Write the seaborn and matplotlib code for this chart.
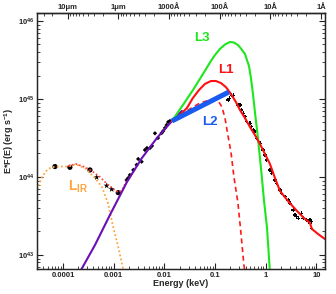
import matplotlib
matplotlib.use('Agg')
import matplotlib.pyplot as plt
import seaborn as sns
import pandas as pd
from matplotlib.ticker import FixedLocator, NullFormatter

sns.set_style('ticks')
plt.rcParams['font.family'] = ['Liberation Sans', 'DejaVu Sans']
plt.rcParams['mathtext.fontset'] = 'custom'
plt.rcParams['mathtext.rm'] = 'Liberation Sans'
plt.rcParams['mathtext.bf'] = 'Liberation Sans:bold'
plt.rcParams['mathtext.it'] = 'Liberation Sans:italic'

# ---------------- data (energy in keV, E*F(E) in erg/s) ----------------
purple_E = [2.16e-4, 4.28e-4, 8.45e-4, 1.83e-3, 3.61e-3, 7.14e-3, 1.41e-2, 2.22e-2]
purple_L = [6.05e42, 1.34e43, 3.26e43, 8.63e43, 1.75e44, 3.16e44, 5.22e44, 7.02e44]

L2_E = [0.0141, 0.188]
L2_L = [5.22e44, 1.23e45]

L1_E = [0.0141, 0.0203, 0.0279, 0.0366, 0.0481, 0.0632, 0.0830, 0.104, 0.131, 0.164,
        0.206, 0.258, 0.310, 0.389, 0.488, 0.612, 0.769, 0.964, 1.21, 1.52,
        1.91, 2.74, 4.12, 5.66, 7.45, 8.15, 10.7, 14.7]
L1_L = [5.22e44, 6.24e44, 7.67e44, 1.03e45, 1.30e45, 1.56e45, 1.70e45, 1.70e45, 1.60e45, 1.42e45,
        1.16e45, 9.15e44, 7.23e44, 5.70e44, 4.38e44, 3.45e44, 2.65e44, 1.97e44, 1.47e44, 9.7e43,
        6.62e43, 4.92e43, 3.67e43, 2.98e43, 2.57e43, 2.15e43, 1.86e43, 1.60e43]

L3_E = [0.0141, 0.0233, 0.0366, 0.0577, 0.0830, 0.0995, 0.125, 0.157, 0.197, 0.236,
        0.283, 0.324, 0.389, 0.467, 0.511, 0.560, 0.612, 0.702, 0.769, 0.841,
        0.921, 1.06, 1.21]
L3_L = [5.22e44, 8.38e44, 1.30e45, 2.09e45, 3.07e45, 3.66e45, 4.38e45, 5.0e45, 5.38e45, 5.30e45,
        4.92e45, 4.44e45, 3.78e45, 2.65e45, 1.86e45, 1.16e45, 6.81e44, 3.16e44, 1.75e44, 9.7e43,
        5.07e43, 2.22e43, 6.05e42]

disk_E = [0.0148, 0.0222, 0.0320, 0.0504, 0.0792, 0.0995, 0.119, 0.137, 0.157, 0.179,
          0.206, 0.236, 0.283, 0.324, 0.371, 0.389]
disk_L = [5.38e44, 6.42e44, 7.45e44, 8.89e44, 9.71e44, 9.71e44, 9.15e44, 7.89e44, 5.70e44, 3.45e44,
          2.09e44, 1.0e44, 4.64e43, 1.91e43, 7.44e42, 6.05e42]

IR_E = [3.07e-5, 3.85e-5, 5.06e-5, 6.95e-5, 1.26e-4, 1.80e-4, 2.72e-4, 4.28e-4, 5.87e-4, 7.72e-4,
        9.68e-4, 1.22e-3, 1.52e-3, 1.60e-3]
IR_L = [6.82e43, 1.0e44, 1.27e44, 1.36e44, 1.36e44, 1.45e44, 1.30e44, 9.7e43, 7.44e43, 4.64e43,
        2.35e43, 1.30e43, 6.81e42, 6.05e42]

sum_E = [1.26e-4, 1.80e-4, 2.72e-4, 3.73e-4, 5.37e-4, 7.38e-4, 9.68e-4, 1.22e-3, 1.46e-3, 1.67e-3, 1.83e-3]
sum_L = [1.38e44, 1.47e44, 1.34e44, 1.19e44, 1.0e44, 8.13e43, 7.02e43, 6.33e43, 6.82e43, 8.13e43, 9.15e43]

ir_pts_E = [6.95e-5, 1.37e-4, 3.41e-4, 1.23e-3]
ir_pts_L = [1.36e44, 1.33e44, 1.23e44, 6.29e43]
ir_star_E = [4.62e-4, 7.28e-4, 9.14e-4]
ir_star_L = [9.9e43, 7.73e43, 6.95e43]

uv_E = [1.80e-3, 1.94e-3, 2.09e-3, 2.44e-3, 2.84e-3, 3.05e-3, 3.56e-3, 4.14e-3, 4.54e-3, 5.20e-3,
        5.69e-3, 6.53e-3, 7.48e-3, 8.85e-3, 9.51e-3, 1.03e-2, 1.11e-2, 1.19e-2, 1.29e-2]
uv_L = [9.15e43, 9.7e43, 1.06e44, 1.23e44, 1.43e44, 1.70e44, 1.57e44, 2.22e44, 2.35e44, 2.35e44,
        2.50e44, 3.63e44, 3.16e44, 3.66e44, 3.89e44, 4.25e44, 4.64e44, 5.07e44, 5.22e44]

xr_E = [0.174, 0.191, 0.182, 0.212, 0.229, 0.287, 0.310, 0.335, 0.360, 0.389,
        0.420, 0.488, 0.527, 0.566, 0.612, 0.662, 0.769, 0.893, 0.964, 1.04,
        1.21, 1.31, 1.52, 1.64, 1.91, 2.06, 2.39, 2.78, 3.00, 3.49,
        3.77, 4.06, 4.37, 5.11, 5.50, 6.41, 6.89, 7.45, 8.04, 8.04]
xr_L = [1.18e45, 1.02e45, 9.71e44, 1.12e45, 1.12e45, 8.38e44, 8.38e44, 7.23e44, 6.56e44, 5.93e44,
        5.12e44, 4.88e44, 4.42e44, 4.01e44, 3.81e44, 3.13e44, 2.70e44, 2.22e44, 1.91e44, 1.65e44,
        1.23e44, 1.12e44, 9.15e43, 8.30e43, 6.82e43, 6.18e43, 5.59e43, 5.07e43, 4.60e43, 3.78e43,
        3.26e43, 3.10e43, 2.96e43, 3.42e43, 2.96e43, 2.81e43, 2.67e43, 2.81e43, 2.67e43, 2.20e43]

xtick_vals = [1e-4, 1e-3, 1e-2, 1e-1, 1, 10]
xtick_labels = ['0.0001', '0.001', '0.01', '0.1', '1', '10']
ytick_vals = [1e43, 1e44, 1e45, 1e46]
ytick_labels = [r'$\mathbf{10^{43}}$', r'$\mathbf{10^{44}}$', r'$\mathbf{10^{45}}$', r'$\mathbf{10^{46}}$']
wave_A = [100000, 10000, 1000, 100, 10, 1]
wave_labels = ['10\u03bcm', '1\u03bcm', '1000\u00c5', '100\u00c5', '10\u00c5', '1\u00c5']
hc_keVA = 12.398

# ---------------- figure ----------------
fig = plt.figure(figsize=(3.36, 2.94), dpi=100)
ax = fig.add_axes([0.110, 0.085, 0.857, 0.872])
ax.set_xscale('log')
ax.set_yscale('log')

def line(E, L, **kw):
    sns.lineplot(x=E, y=L, ax=ax, sort=False, estimator=None, legend=False, **kw)

line(IR_E, IR_L, color='#ffa640', lw=1.3, linestyle=(0, (1, 1.3)))
line(sum_E, sum_L, color='#ff4040', lw=1.2, linestyle=(0, (1, 1.3)))
line(purple_E, purple_L, color='#6a0fb5', lw=1.5)
line(disk_E, disk_L, color='#ff1a1a', lw=1.2, linestyle=(0, (3, 2.2)))
line(L3_E, L3_L, color='#1ee61e', lw=1.5)
line(L1_E, L1_L, color='#ff1010', lw=1.5)
line(L2_E, L2_L, color='#1a5cf0', lw=3.6, solid_capstyle='butt')

sns.scatterplot(x=ir_pts_E, y=ir_pts_L, ax=ax, color='black', marker='o', s=14, edgecolor='none', legend=False)
sns.scatterplot(x=ir_star_E, y=ir_star_L, ax=ax, color='black', marker='*', s=22, edgecolor='none', legend=False)
sns.scatterplot(x=uv_E, y=uv_L, ax=ax, color='black', marker='D', s=5, edgecolor='none', legend=False)
sns.scatterplot(x=xr_E, y=xr_L, ax=ax, color='black', marker='P', s=7, edgecolor='none', legend=False)

ax.set_xlim(3.07e-5, 14.7)
ax.set_ylim(6.6e42, 1.28e46)

ax.xaxis.set_major_locator(FixedLocator(xtick_vals))
ax.set_xticklabels(xtick_labels)
ax.yaxis.set_major_locator(FixedLocator(ytick_vals))
ax.set_yticklabels(ytick_labels)
ax.xaxis.set_minor_formatter(NullFormatter())
ax.yaxis.set_minor_formatter(NullFormatter())

for s in ax.spines.values():
    s.set_linewidth(1.0)
    s.set_color('#222222')

ax.tick_params(which='major', direction='in', length=4.5, width=0.8, labelsize=5.5,
               pad=2, right=True, top=False, colors='#222222')
ax.tick_params(which='minor', direction='in', length=2.2, width=0.6, right=True, top=False)
for lab in ax.get_xticklabels() + ax.get_yticklabels():
    lab.set_fontweight('bold')

ax.set_xlabel('Energy (keV)', fontsize=6.5, fontweight='bold', labelpad=0.5)
ax.set_ylabel(r'E*F(E) (erg s$^{\mathbf{-1}}$)', fontsize=6.5, fontweight='bold', labelpad=1)

# top axis: wavelength
ax2 = ax.twiny()
ax2.set_xscale('log')
ax2.set_xlim(ax.get_xlim())
top_major = [hc_keVA / w for w in wave_A]
top_minor = [hc_keVA / (k * w) for w in wave_A for k in range(2, 10)]
ax2.xaxis.set_major_locator(FixedLocator(top_major))
ax2.xaxis.set_minor_locator(FixedLocator([v for v in top_minor if v > 3.07e-5]))
ax2.set_xticklabels(wave_labels)
ax2.xaxis.set_minor_formatter(NullFormatter())
ax2.tick_params(which='major', direction='in', length=4.5, width=0.8, labelsize=5.5, pad=1.5)
ax2.tick_params(which='minor', direction='in', length=2.2, width=0.6)
for lab in ax2.get_xticklabels():
    lab.set_fontweight('bold')
ax2.spines['top'].set_linewidth(1.0)

# curve labels
ax.text(0.573, 0.901, 'L3', transform=ax.transAxes, color='#1ee61e', fontsize=9.5,
        fontweight='bold', ha='center', va='center')
ax.text(0.656, 0.778, 'L1', transform=ax.transAxes, color='#ff1010', fontsize=9.5,
        fontweight='bold', ha='center', va='center')
ax.text(0.600, 0.575, 'L2', transform=ax.transAxes, color='#1a5cf0', fontsize=9.5,
        fontweight='bold', ha='center', va='center')
ax.text(0.109, 0.306, r'$\mathbf{L}_{\mathbf{IR}}$', transform=ax.transAxes, color='#ffa640',
        fontsize=10, ha='left', va='baseline')

fig.savefig('out.png', dpi=100)
